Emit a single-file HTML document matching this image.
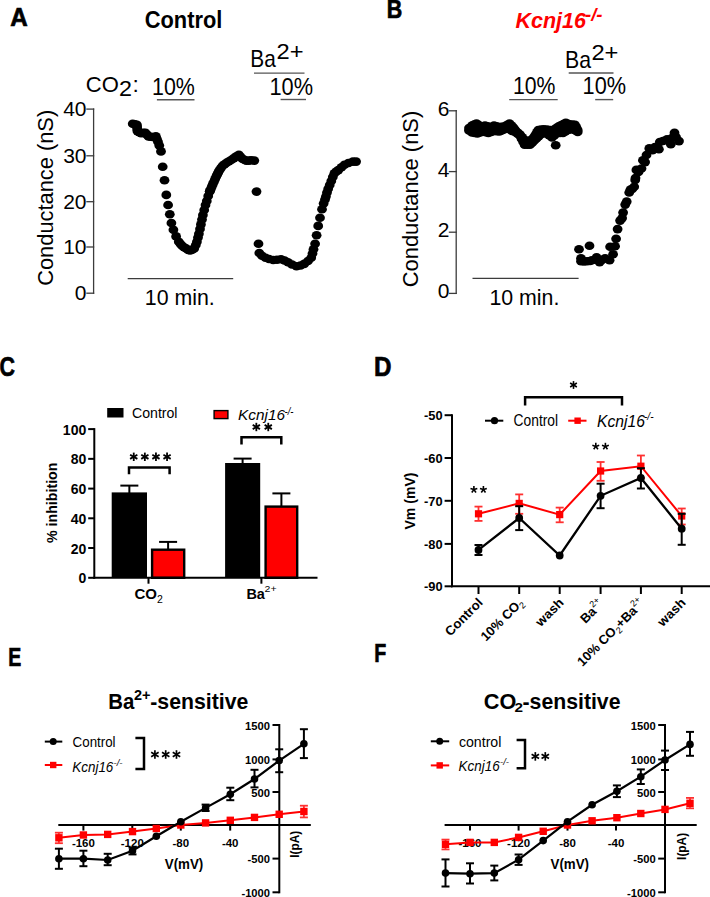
<!DOCTYPE html>
<html><head><meta charset="utf-8"><style>
html,body{margin:0;padding:0;background:#fff;}
svg{display:block;}
</style></head><body>
<svg width="710" height="897" viewBox="0 0 710 897">
<rect x="0" y="0" width="710" height="897" fill="#fff"/>
<text x="10.3" y="25.8" font-family="Liberation Sans" font-size="26.5" font-weight="700" font-style="normal" fill="#000" text-anchor="start" textLength="17.5" lengthAdjust="spacingAndGlyphs" stroke="#000" stroke-width="0.7">A</text>
<text x="144.8" y="28.4" font-family="Liberation Sans" font-size="24.6" font-weight="700" font-style="normal" fill="#000" text-anchor="start" textLength="77.5" lengthAdjust="spacingAndGlyphs" >Control</text>
<text x="85.8" y="91.8" font-family="Liberation Sans" font-size="22.7" font-weight="400" font-style="normal" fill="#000" text-anchor="start" textLength="33" lengthAdjust="spacingAndGlyphs" >CO</text>
<text x="119.0" y="96.3" font-family="Liberation Sans" font-size="21.5" font-weight="400" font-style="normal" fill="#000" text-anchor="start" textLength="13" lengthAdjust="spacingAndGlyphs" >2</text>
<text x="132.5" y="91.8" font-family="Liberation Sans" font-size="22.7" font-weight="400" font-style="normal" fill="#000" text-anchor="start" >:</text>
<text x="152.0" y="94.6" font-family="Liberation Sans" font-size="23" font-weight="400" font-style="normal" fill="#000" text-anchor="start" textLength="42.8" lengthAdjust="spacingAndGlyphs" >10%</text>
<line x1="156.9" y1="99.7" x2="194.5" y2="99.7" stroke="#555" stroke-width="1.4" stroke-linecap="butt"/>
<text x="250.3" y="67.4" font-family="Liberation Sans" font-size="24" font-weight="400" font-style="normal" fill="#000" text-anchor="start" textLength="25.5" lengthAdjust="spacingAndGlyphs" >Ba</text>
<text x="276.6" y="58.6" font-family="Liberation Sans" font-size="22.5" font-weight="400" font-style="normal" fill="#000" text-anchor="start" textLength="27" lengthAdjust="spacingAndGlyphs" >2+</text>
<line x1="254" y1="73.1" x2="304.5" y2="73.1" stroke="#555" stroke-width="1.4" stroke-linecap="butt"/>
<text x="269.5" y="94.6" font-family="Liberation Sans" font-size="23" font-weight="400" font-style="normal" fill="#000" text-anchor="start" textLength="43.5" lengthAdjust="spacingAndGlyphs" >10%</text>
<line x1="280.6" y1="99.5" x2="306" y2="99.5" stroke="#555" stroke-width="1.4" stroke-linecap="butt"/>
<line x1="93.6" y1="108.4" x2="93.6" y2="293.9" stroke="#3c3c3c" stroke-width="1.3" stroke-linecap="butt"/>
<line x1="86.3" y1="109.1" x2="94.2" y2="109.1" stroke="#3c3c3c" stroke-width="1.3" stroke-linecap="butt"/>
<text x="86.5" y="116.3" font-family="Liberation Sans" font-size="21" font-weight="400" font-style="normal" fill="#000" text-anchor="end" >40</text>
<line x1="86.3" y1="155.8" x2="94.2" y2="155.8" stroke="#3c3c3c" stroke-width="1.3" stroke-linecap="butt"/>
<text x="86.5" y="163.0" font-family="Liberation Sans" font-size="21" font-weight="400" font-style="normal" fill="#000" text-anchor="end" >30</text>
<line x1="86.3" y1="201.7" x2="94.2" y2="201.7" stroke="#3c3c3c" stroke-width="1.3" stroke-linecap="butt"/>
<text x="86.5" y="208.89999999999998" font-family="Liberation Sans" font-size="21" font-weight="400" font-style="normal" fill="#000" text-anchor="end" >20</text>
<line x1="86.3" y1="247.0" x2="94.2" y2="247.0" stroke="#3c3c3c" stroke-width="1.3" stroke-linecap="butt"/>
<text x="86.5" y="254.2" font-family="Liberation Sans" font-size="21" font-weight="400" font-style="normal" fill="#000" text-anchor="end" >10</text>
<line x1="86.3" y1="293.2" x2="94.2" y2="293.2" stroke="#3c3c3c" stroke-width="1.3" stroke-linecap="butt"/>
<text x="86.5" y="300.4" font-family="Liberation Sans" font-size="21" font-weight="400" font-style="normal" fill="#000" text-anchor="end" >0</text>
<text x="53.4" y="197.8" font-family="Liberation Sans" font-size="22" font-weight="400" font-style="normal" fill="#000" text-anchor="middle" textLength="176" lengthAdjust="spacingAndGlyphs" transform="rotate(-90 53.4 197.8)">Conductance (nS)</text>
<line x1="127.7" y1="278.7" x2="233.2" y2="278.7" stroke="#3c3c3c" stroke-width="1.3" stroke-linecap="butt"/>
<text x="144.8" y="304.6" font-family="Liberation Sans" font-size="22" font-weight="400" font-style="normal" fill="#000" text-anchor="start" textLength="70" lengthAdjust="spacingAndGlyphs" >10 min.</text>
<ellipse cx="132.7" cy="123.7" rx="4.9" ry="4.3" fill="#000"/>
<ellipse cx="134.8" cy="124.2" rx="4.9" ry="4.3" fill="#000"/>
<ellipse cx="136.9" cy="124.8" rx="4.9" ry="4.3" fill="#000"/>
<ellipse cx="137.1" cy="126.9" rx="4.9" ry="4.3" fill="#000"/>
<ellipse cx="137.2" cy="129.0" rx="4.9" ry="4.3" fill="#000"/>
<ellipse cx="137.4" cy="131.1" rx="4.9" ry="4.3" fill="#000"/>
<ellipse cx="139.2" cy="132.1" rx="4.9" ry="4.3" fill="#000"/>
<ellipse cx="141.1" cy="133.2" rx="4.9" ry="4.3" fill="#000"/>
<ellipse cx="143.2" cy="132.9" rx="4.9" ry="4.3" fill="#000"/>
<ellipse cx="145.4" cy="132.7" rx="4.9" ry="4.3" fill="#000"/>
<ellipse cx="146.9" cy="134.6" rx="4.9" ry="4.3" fill="#000"/>
<ellipse cx="148.5" cy="136.4" rx="4.9" ry="4.3" fill="#000"/>
<ellipse cx="150.6" cy="136.7" rx="4.9" ry="4.3" fill="#000"/>
<ellipse cx="152.7" cy="137.0" rx="4.9" ry="4.3" fill="#000"/>
<ellipse cx="155.9" cy="136.4" rx="4.9" ry="4.3" fill="#000"/>
<ellipse cx="156.9" cy="139.1" rx="4.9" ry="4.3" fill="#000"/>
<ellipse cx="158.0" cy="141.7" rx="4.9" ry="4.3" fill="#000"/>
<ellipse cx="159.3" cy="145.5" rx="4.9" ry="4.3" fill="#000"/>
<ellipse cx="161.0" cy="151.4" rx="4.9" ry="4.3" fill="#000"/>
<ellipse cx="162.7" cy="166.8" rx="4.9" ry="4.3" fill="#000"/>
<ellipse cx="164.5" cy="180.2" rx="4.9" ry="4.3" fill="#000"/>
<ellipse cx="166.3" cy="194.9" rx="4.9" ry="4.3" fill="#000"/>
<ellipse cx="168.1" cy="205.0" rx="4.9" ry="4.3" fill="#000"/>
<ellipse cx="169.8" cy="214.3" rx="4.9" ry="4.3" fill="#000"/>
<ellipse cx="171.4" cy="223.0" rx="4.9" ry="4.3" fill="#000"/>
<ellipse cx="173.4" cy="229.7" rx="4.9" ry="4.3" fill="#000"/>
<ellipse cx="176.1" cy="236.4" rx="4.9" ry="4.3" fill="#000"/>
<ellipse cx="178.8" cy="241.8" rx="4.9" ry="4.3" fill="#000"/>
<ellipse cx="180.5" cy="244.0" rx="4.9" ry="4.3" fill="#000"/>
<ellipse cx="182.1" cy="245.8" rx="4.9" ry="4.3" fill="#000"/>
<ellipse cx="184.0" cy="247.3" rx="4.9" ry="4.3" fill="#000"/>
<ellipse cx="186.2" cy="248.5" rx="4.9" ry="4.3" fill="#000"/>
<ellipse cx="188.2" cy="250.0" rx="4.9" ry="4.3" fill="#000"/>
<ellipse cx="190.2" cy="250.5" rx="4.9" ry="4.3" fill="#000"/>
<ellipse cx="192.2" cy="249.8" rx="4.9" ry="4.3" fill="#000"/>
<ellipse cx="194.2" cy="248.5" rx="4.9" ry="4.3" fill="#000"/>
<ellipse cx="195.8" cy="245.0" rx="4.9" ry="4.3" fill="#000"/>
<ellipse cx="196.9" cy="241.8" rx="4.9" ry="4.3" fill="#000"/>
<ellipse cx="198.0" cy="237.5" rx="4.9" ry="4.3" fill="#000"/>
<ellipse cx="198.9" cy="233.7" rx="4.9" ry="4.3" fill="#000"/>
<ellipse cx="200.0" cy="229.0" rx="4.9" ry="4.3" fill="#000"/>
<ellipse cx="200.9" cy="224.4" rx="4.9" ry="4.3" fill="#000"/>
<ellipse cx="202.0" cy="219.5" rx="4.9" ry="4.3" fill="#000"/>
<ellipse cx="202.9" cy="215.0" rx="4.9" ry="4.3" fill="#000"/>
<ellipse cx="204.2" cy="210.0" rx="4.9" ry="4.3" fill="#000"/>
<ellipse cx="205.5" cy="205.0" rx="4.9" ry="4.3" fill="#000"/>
<ellipse cx="206.8" cy="201.0" rx="4.9" ry="4.3" fill="#000"/>
<ellipse cx="208.2" cy="196.0" rx="4.9" ry="4.3" fill="#000"/>
<ellipse cx="209.8" cy="191.3" rx="4.9" ry="4.3" fill="#000"/>
<ellipse cx="209.8" cy="191.3" rx="4.9" ry="4.3" fill="#000"/>
<ellipse cx="210.8" cy="189.0" rx="4.9" ry="4.3" fill="#000"/>
<ellipse cx="211.7" cy="186.7" rx="4.9" ry="4.3" fill="#000"/>
<ellipse cx="212.7" cy="184.4" rx="4.9" ry="4.3" fill="#000"/>
<ellipse cx="213.9" cy="181.8" rx="4.9" ry="4.3" fill="#000"/>
<ellipse cx="215.0" cy="179.2" rx="4.9" ry="4.3" fill="#000"/>
<ellipse cx="216.2" cy="176.6" rx="4.9" ry="4.3" fill="#000"/>
<ellipse cx="217.2" cy="174.6" rx="4.9" ry="4.3" fill="#000"/>
<ellipse cx="218.2" cy="172.6" rx="4.9" ry="4.3" fill="#000"/>
<ellipse cx="219.2" cy="170.6" rx="4.9" ry="4.3" fill="#000"/>
<ellipse cx="220.9" cy="168.1" rx="4.9" ry="4.3" fill="#000"/>
<ellipse cx="222.6" cy="165.7" rx="4.9" ry="4.3" fill="#000"/>
<ellipse cx="224.6" cy="164.2" rx="4.9" ry="4.3" fill="#000"/>
<ellipse cx="226.6" cy="162.8" rx="4.9" ry="4.3" fill="#000"/>
<ellipse cx="229.1" cy="161.3" rx="4.9" ry="4.3" fill="#000"/>
<ellipse cx="231.5" cy="159.8" rx="4.9" ry="4.3" fill="#000"/>
<ellipse cx="233.9" cy="158.1" rx="4.9" ry="4.3" fill="#000"/>
<ellipse cx="236.4" cy="156.3" rx="4.9" ry="4.3" fill="#000"/>
<ellipse cx="238.9" cy="154.9" rx="4.9" ry="4.3" fill="#000"/>
<ellipse cx="240.6" cy="156.9" rx="4.9" ry="4.3" fill="#000"/>
<ellipse cx="242.3" cy="158.8" rx="4.9" ry="4.3" fill="#000"/>
<ellipse cx="244.3" cy="159.8" rx="4.9" ry="4.3" fill="#000"/>
<ellipse cx="246.3" cy="160.8" rx="4.9" ry="4.3" fill="#000"/>
<ellipse cx="248.8" cy="160.6" rx="4.9" ry="4.3" fill="#000"/>
<ellipse cx="251.2" cy="160.3" rx="4.9" ry="4.3" fill="#000"/>
<ellipse cx="254.3" cy="160.6" rx="4.9" ry="4.3" fill="#000"/>
<ellipse cx="256.5" cy="191.6" rx="4.9" ry="4.3" fill="#000"/>
<ellipse cx="258.5" cy="243.7" rx="4.9" ry="4.3" fill="#000"/>
<ellipse cx="259.3" cy="253.0" rx="4.9" ry="4.3" fill="#000"/>
<ellipse cx="262.0" cy="255.8" rx="4.9" ry="4.3" fill="#000"/>
<ellipse cx="265.5" cy="257.7" rx="4.9" ry="4.3" fill="#000"/>
<ellipse cx="269.0" cy="259.0" rx="4.9" ry="4.3" fill="#000"/>
<ellipse cx="273.2" cy="260.0" rx="4.9" ry="4.3" fill="#000"/>
<ellipse cx="277.0" cy="259.8" rx="4.9" ry="4.3" fill="#000"/>
<ellipse cx="281.0" cy="259.2" rx="4.9" ry="4.3" fill="#000"/>
<ellipse cx="284.5" cy="260.5" rx="4.9" ry="4.3" fill="#000"/>
<ellipse cx="288.0" cy="262.3" rx="4.9" ry="4.3" fill="#000"/>
<ellipse cx="292.0" cy="264.5" rx="4.9" ry="4.3" fill="#000"/>
<ellipse cx="296.5" cy="266.2" rx="4.9" ry="4.3" fill="#000"/>
<ellipse cx="300.5" cy="265.5" rx="4.9" ry="4.3" fill="#000"/>
<ellipse cx="304.2" cy="263.9" rx="4.9" ry="4.3" fill="#000"/>
<ellipse cx="308.0" cy="261.0" rx="4.9" ry="4.3" fill="#000"/>
<ellipse cx="311.2" cy="257.7" rx="4.9" ry="4.3" fill="#000"/>
<ellipse cx="312.5" cy="253.5" rx="4.9" ry="4.3" fill="#000"/>
<ellipse cx="313.5" cy="249.2" rx="4.9" ry="4.3" fill="#000"/>
<ellipse cx="315.1" cy="243.7" rx="4.9" ry="4.3" fill="#000"/>
<ellipse cx="316.6" cy="235.2" rx="4.9" ry="4.3" fill="#000"/>
<ellipse cx="318.2" cy="225.9" rx="4.9" ry="4.3" fill="#000"/>
<ellipse cx="320.0" cy="217.7" rx="4.9" ry="4.3" fill="#000"/>
<ellipse cx="322.0" cy="209.3" rx="4.9" ry="4.3" fill="#000"/>
<ellipse cx="323.6" cy="203.5" rx="4.9" ry="4.3" fill="#000"/>
<ellipse cx="325.0" cy="199.5" rx="4.9" ry="4.3" fill="#000"/>
<ellipse cx="325.9" cy="196.5" rx="4.9" ry="4.3" fill="#000"/>
<ellipse cx="327.0" cy="192.5" rx="4.9" ry="4.3" fill="#000"/>
<ellipse cx="328.2" cy="188.7" rx="4.9" ry="4.3" fill="#000"/>
<ellipse cx="329.7" cy="185.0" rx="4.9" ry="4.3" fill="#000"/>
<ellipse cx="331.3" cy="181.0" rx="4.9" ry="4.3" fill="#000"/>
<ellipse cx="332.8" cy="177.0" rx="4.9" ry="4.3" fill="#000"/>
<ellipse cx="334.4" cy="173.2" rx="4.9" ry="4.3" fill="#000"/>
<ellipse cx="336.3" cy="171.5" rx="4.9" ry="4.3" fill="#000"/>
<ellipse cx="338.3" cy="170.1" rx="4.9" ry="4.3" fill="#000"/>
<ellipse cx="341.5" cy="167.3" rx="4.9" ry="4.3" fill="#000"/>
<ellipse cx="344.5" cy="164.7" rx="4.9" ry="4.3" fill="#000"/>
<ellipse cx="348.5" cy="163.0" rx="4.9" ry="4.3" fill="#000"/>
<ellipse cx="353.0" cy="161.6" rx="4.9" ry="4.3" fill="#000"/>
<ellipse cx="356.1" cy="161.6" rx="4.9" ry="4.3" fill="#000"/>
<text x="386.8" y="18.4" font-family="Liberation Sans" font-size="26.5" font-weight="700" font-style="normal" fill="#000" text-anchor="start" textLength="15.5" lengthAdjust="spacingAndGlyphs" stroke="#000" stroke-width="0.7">B</text>
<text x="515.5" y="27.5" font-family="Liberation Sans" font-size="22.5" font-weight="700" font-style="italic" fill="#ff0000" text-anchor="start" textLength="70.5" lengthAdjust="spacingAndGlyphs" >Kcnj16</text>
<text x="585.0" y="20.5" font-family="Liberation Sans" font-size="17.5" font-weight="700" font-style="italic" fill="#ff0000" text-anchor="start" textLength="17.5" lengthAdjust="spacingAndGlyphs" >-/-</text>
<text x="565.0" y="67.5" font-family="Liberation Sans" font-size="24" font-weight="400" font-style="normal" fill="#000" text-anchor="start" textLength="26" lengthAdjust="spacingAndGlyphs" >Ba</text>
<text x="591.4" y="59.6" font-family="Liberation Sans" font-size="22.5" font-weight="400" font-style="normal" fill="#000" text-anchor="start" textLength="27" lengthAdjust="spacingAndGlyphs" >2+</text>
<line x1="568.7" y1="73.0" x2="613.5" y2="73.0" stroke="#555" stroke-width="1.4" stroke-linecap="butt"/>
<text x="513.0" y="93.7" font-family="Liberation Sans" font-size="23" font-weight="400" font-style="normal" fill="#000" text-anchor="start" textLength="42.5" lengthAdjust="spacingAndGlyphs" >10%</text>
<line x1="509.2" y1="99.6" x2="557.7" y2="99.6" stroke="#555" stroke-width="1.4" stroke-linecap="butt"/>
<text x="582.6" y="93.7" font-family="Liberation Sans" font-size="23" font-weight="400" font-style="normal" fill="#000" text-anchor="start" textLength="43.5" lengthAdjust="spacingAndGlyphs" >10%</text>
<line x1="595.2" y1="99.6" x2="613.2" y2="99.6" stroke="#555" stroke-width="1.4" stroke-linecap="butt"/>
<line x1="456.2" y1="110.1" x2="456.2" y2="294.1" stroke="#3c3c3c" stroke-width="1.3" stroke-linecap="butt"/>
<line x1="448.8" y1="110.8" x2="456.8" y2="110.8" stroke="#3c3c3c" stroke-width="1.3" stroke-linecap="butt"/>
<text x="449.5" y="115.8" font-family="Liberation Sans" font-size="21" font-weight="400" font-style="normal" fill="#000" text-anchor="end" >6</text>
<line x1="448.8" y1="171.6" x2="456.8" y2="171.6" stroke="#3c3c3c" stroke-width="1.3" stroke-linecap="butt"/>
<text x="449.5" y="176.6" font-family="Liberation Sans" font-size="21" font-weight="400" font-style="normal" fill="#000" text-anchor="end" >4</text>
<line x1="448.8" y1="232.2" x2="456.8" y2="232.2" stroke="#3c3c3c" stroke-width="1.3" stroke-linecap="butt"/>
<text x="449.5" y="237.2" font-family="Liberation Sans" font-size="21" font-weight="400" font-style="normal" fill="#000" text-anchor="end" >2</text>
<line x1="448.8" y1="293.4" x2="456.8" y2="293.4" stroke="#3c3c3c" stroke-width="1.3" stroke-linecap="butt"/>
<text x="449.5" y="298.4" font-family="Liberation Sans" font-size="21" font-weight="400" font-style="normal" fill="#000" text-anchor="end" >0</text>
<text x="417.6" y="199.0" font-family="Liberation Sans" font-size="22" font-weight="400" font-style="normal" fill="#000" text-anchor="middle" textLength="176.5" lengthAdjust="spacingAndGlyphs" transform="rotate(-90 417.6 199.0)">Conductance (nS)</text>
<line x1="472.5" y1="278.3" x2="578.6" y2="278.3" stroke="#3c3c3c" stroke-width="1.3" stroke-linecap="butt"/>
<text x="489.4" y="304.9" font-family="Liberation Sans" font-size="22" font-weight="400" font-style="normal" fill="#000" text-anchor="start" textLength="70" lengthAdjust="spacingAndGlyphs" >10 min.</text>
<ellipse cx="469.0" cy="128.0" rx="4.9" ry="4.3" fill="#000"/>
<ellipse cx="472.0" cy="125.5" rx="4.9" ry="4.3" fill="#000"/>
<ellipse cx="474.2" cy="124.5" rx="4.9" ry="4.3" fill="#000"/>
<ellipse cx="476.5" cy="123.5" rx="4.9" ry="4.3" fill="#000"/>
<ellipse cx="478.8" cy="125.0" rx="4.9" ry="4.3" fill="#000"/>
<ellipse cx="481.0" cy="126.5" rx="4.9" ry="4.3" fill="#000"/>
<ellipse cx="485.0" cy="125.5" rx="4.9" ry="4.3" fill="#000"/>
<ellipse cx="487.5" cy="126.2" rx="4.9" ry="4.3" fill="#000"/>
<ellipse cx="490.0" cy="127.0" rx="4.9" ry="4.3" fill="#000"/>
<ellipse cx="494.0" cy="125.5" rx="4.9" ry="4.3" fill="#000"/>
<ellipse cx="496.5" cy="126.2" rx="4.9" ry="4.3" fill="#000"/>
<ellipse cx="499.0" cy="127.0" rx="4.9" ry="4.3" fill="#000"/>
<ellipse cx="501.5" cy="126.8" rx="4.9" ry="4.3" fill="#000"/>
<ellipse cx="504.0" cy="126.5" rx="4.9" ry="4.3" fill="#000"/>
<ellipse cx="506.8" cy="125.0" rx="4.9" ry="4.3" fill="#000"/>
<ellipse cx="509.5" cy="123.5" rx="4.9" ry="4.3" fill="#000"/>
<ellipse cx="511.2" cy="125.2" rx="4.9" ry="4.3" fill="#000"/>
<ellipse cx="513.0" cy="127.0" rx="4.9" ry="4.3" fill="#000"/>
<ellipse cx="514.5" cy="129.0" rx="4.9" ry="4.3" fill="#000"/>
<ellipse cx="516.0" cy="131.0" rx="4.9" ry="4.3" fill="#000"/>
<ellipse cx="518.0" cy="132.8" rx="4.9" ry="4.3" fill="#000"/>
<ellipse cx="520.0" cy="134.5" rx="4.9" ry="4.3" fill="#000"/>
<ellipse cx="522.3" cy="137.2" rx="4.9" ry="4.3" fill="#000"/>
<ellipse cx="524.6" cy="140.0" rx="4.9" ry="4.3" fill="#000"/>
<ellipse cx="527.3" cy="140.8" rx="4.9" ry="4.3" fill="#000"/>
<ellipse cx="530.0" cy="141.5" rx="4.9" ry="4.3" fill="#000"/>
<ellipse cx="532.0" cy="139.2" rx="4.9" ry="4.3" fill="#000"/>
<ellipse cx="534.0" cy="137.0" rx="4.9" ry="4.3" fill="#000"/>
<ellipse cx="535.4" cy="134.7" rx="4.9" ry="4.3" fill="#000"/>
<ellipse cx="536.9" cy="132.4" rx="4.9" ry="4.3" fill="#000"/>
<ellipse cx="538.3" cy="130.1" rx="4.9" ry="4.3" fill="#000"/>
<ellipse cx="541.0" cy="129.6" rx="4.9" ry="4.3" fill="#000"/>
<ellipse cx="543.8" cy="129.2" rx="4.9" ry="4.3" fill="#000"/>
<ellipse cx="547.0" cy="129.6" rx="4.9" ry="4.3" fill="#000"/>
<ellipse cx="550.2" cy="130.1" rx="4.9" ry="4.3" fill="#000"/>
<ellipse cx="554.0" cy="129.5" rx="4.9" ry="4.3" fill="#000"/>
<ellipse cx="556.2" cy="128.0" rx="4.9" ry="4.3" fill="#000"/>
<ellipse cx="558.5" cy="126.5" rx="4.9" ry="4.3" fill="#000"/>
<ellipse cx="560.9" cy="125.3" rx="4.9" ry="4.3" fill="#000"/>
<ellipse cx="563.4" cy="124.0" rx="4.9" ry="4.3" fill="#000"/>
<ellipse cx="565.8" cy="122.8" rx="4.9" ry="4.3" fill="#000"/>
<ellipse cx="567.9" cy="123.7" rx="4.9" ry="4.3" fill="#000"/>
<ellipse cx="570.0" cy="124.5" rx="4.9" ry="4.3" fill="#000"/>
<ellipse cx="572.5" cy="124.6" rx="4.9" ry="4.3" fill="#000"/>
<ellipse cx="575.0" cy="124.7" rx="4.9" ry="4.3" fill="#000"/>
<ellipse cx="576.4" cy="127.3" rx="4.9" ry="4.3" fill="#000"/>
<ellipse cx="577.7" cy="130.0" rx="4.9" ry="4.3" fill="#000"/>
<ellipse cx="469.0" cy="130.5" rx="4.9" ry="4.3" fill="#000"/>
<ellipse cx="472.0" cy="132.5" rx="4.9" ry="4.3" fill="#000"/>
<ellipse cx="474.7" cy="133.0" rx="4.9" ry="4.3" fill="#000"/>
<ellipse cx="477.4" cy="133.5" rx="4.9" ry="4.3" fill="#000"/>
<ellipse cx="480.2" cy="132.5" rx="4.9" ry="4.3" fill="#000"/>
<ellipse cx="483.0" cy="131.5" rx="4.9" ry="4.3" fill="#000"/>
<ellipse cx="485.7" cy="132.2" rx="4.9" ry="4.3" fill="#000"/>
<ellipse cx="488.4" cy="133.0" rx="4.9" ry="4.3" fill="#000"/>
<ellipse cx="491.2" cy="132.0" rx="4.9" ry="4.3" fill="#000"/>
<ellipse cx="494.0" cy="131.0" rx="4.9" ry="4.3" fill="#000"/>
<ellipse cx="496.7" cy="131.2" rx="4.9" ry="4.3" fill="#000"/>
<ellipse cx="499.4" cy="131.5" rx="4.9" ry="4.3" fill="#000"/>
<ellipse cx="501.7" cy="130.5" rx="4.9" ry="4.3" fill="#000"/>
<ellipse cx="504.0" cy="129.5" rx="4.9" ry="4.3" fill="#000"/>
<ellipse cx="508.0" cy="128.0" rx="4.9" ry="4.3" fill="#000"/>
<ellipse cx="510.0" cy="129.5" rx="4.9" ry="4.3" fill="#000"/>
<ellipse cx="512.0" cy="131.0" rx="4.9" ry="4.3" fill="#000"/>
<ellipse cx="515.0" cy="132.0" rx="4.9" ry="4.3" fill="#000"/>
<ellipse cx="517.5" cy="133.8" rx="4.9" ry="4.3" fill="#000"/>
<ellipse cx="520.0" cy="135.6" rx="4.9" ry="4.3" fill="#000"/>
<ellipse cx="521.5" cy="138.7" rx="4.9" ry="4.3" fill="#000"/>
<ellipse cx="523.1" cy="141.7" rx="4.9" ry="4.3" fill="#000"/>
<ellipse cx="524.6" cy="144.8" rx="4.9" ry="4.3" fill="#000"/>
<ellipse cx="527.3" cy="144.8" rx="4.9" ry="4.3" fill="#000"/>
<ellipse cx="530.0" cy="144.8" rx="4.9" ry="4.3" fill="#000"/>
<ellipse cx="532.2" cy="142.7" rx="4.9" ry="4.3" fill="#000"/>
<ellipse cx="534.3" cy="140.5" rx="4.9" ry="4.3" fill="#000"/>
<ellipse cx="536.5" cy="138.4" rx="4.9" ry="4.3" fill="#000"/>
<ellipse cx="538.8" cy="136.2" rx="4.9" ry="4.3" fill="#000"/>
<ellipse cx="541.0" cy="134.0" rx="4.9" ry="4.3" fill="#000"/>
<ellipse cx="543.5" cy="133.5" rx="4.9" ry="4.3" fill="#000"/>
<ellipse cx="546.0" cy="133.0" rx="4.9" ry="4.3" fill="#000"/>
<ellipse cx="549.0" cy="135.2" rx="4.9" ry="4.3" fill="#000"/>
<ellipse cx="552.0" cy="137.5" rx="4.9" ry="4.3" fill="#000"/>
<ellipse cx="554.5" cy="135.2" rx="4.9" ry="4.3" fill="#000"/>
<ellipse cx="557.0" cy="133.0" rx="4.9" ry="4.3" fill="#000"/>
<ellipse cx="560.0" cy="133.0" rx="4.9" ry="4.3" fill="#000"/>
<ellipse cx="563.0" cy="133.0" rx="4.9" ry="4.3" fill="#000"/>
<ellipse cx="565.5" cy="131.5" rx="4.9" ry="4.3" fill="#000"/>
<ellipse cx="568.0" cy="130.0" rx="4.9" ry="4.3" fill="#000"/>
<ellipse cx="570.5" cy="129.5" rx="4.9" ry="4.3" fill="#000"/>
<ellipse cx="573.0" cy="129.0" rx="4.9" ry="4.3" fill="#000"/>
<ellipse cx="575.4" cy="130.5" rx="4.9" ry="4.3" fill="#000"/>
<ellipse cx="577.7" cy="132.0" rx="4.9" ry="4.3" fill="#000"/>
<ellipse cx="555.7" cy="145.3" rx="4.9" ry="4.3" fill="#000"/>
<ellipse cx="472.0" cy="129.0" rx="4.9" ry="4.3" fill="#000"/>
<ellipse cx="476.0" cy="128.5" rx="4.9" ry="4.3" fill="#000"/>
<ellipse cx="480.0" cy="128.5" rx="4.9" ry="4.3" fill="#000"/>
<ellipse cx="579.0" cy="249.2" rx="4.9" ry="4.3" fill="#000"/>
<ellipse cx="589.5" cy="245.7" rx="4.9" ry="4.3" fill="#000"/>
<ellipse cx="581.0" cy="261.2" rx="4.9" ry="4.3" fill="#000"/>
<ellipse cx="581.0" cy="258.2" rx="4.9" ry="4.3" fill="#000"/>
<ellipse cx="584.0" cy="261.5" rx="4.9" ry="4.3" fill="#000"/>
<ellipse cx="587.0" cy="261.2" rx="4.9" ry="4.3" fill="#000"/>
<ellipse cx="590.0" cy="261.0" rx="4.9" ry="4.3" fill="#000"/>
<ellipse cx="592.0" cy="260.2" rx="4.9" ry="4.3" fill="#000"/>
<ellipse cx="596.6" cy="257.2" rx="4.9" ry="4.3" fill="#000"/>
<ellipse cx="599.6" cy="262.2" rx="4.9" ry="4.3" fill="#000"/>
<ellipse cx="602.0" cy="260.0" rx="4.9" ry="4.3" fill="#000"/>
<ellipse cx="605.1" cy="258.2" rx="4.9" ry="4.3" fill="#000"/>
<ellipse cx="609.6" cy="260.2" rx="4.9" ry="4.3" fill="#000"/>
<ellipse cx="613.1" cy="254.2" rx="4.9" ry="4.3" fill="#000"/>
<ellipse cx="610.1" cy="246.7" rx="4.9" ry="4.3" fill="#000"/>
<ellipse cx="615.1" cy="246.2" rx="4.9" ry="4.3" fill="#000"/>
<ellipse cx="616.1" cy="238.7" rx="4.9" ry="4.3" fill="#000"/>
<ellipse cx="617.6" cy="229.1" rx="4.9" ry="4.3" fill="#000"/>
<ellipse cx="620.1" cy="220.6" rx="4.9" ry="4.3" fill="#000"/>
<ellipse cx="622.1" cy="218.1" rx="4.9" ry="4.3" fill="#000"/>
<ellipse cx="623.1" cy="212.6" rx="4.9" ry="4.3" fill="#000"/>
<ellipse cx="625.2" cy="204.6" rx="4.9" ry="4.3" fill="#000"/>
<ellipse cx="626.7" cy="201.6" rx="4.9" ry="4.3" fill="#000"/>
<ellipse cx="629.2" cy="192.5" rx="4.9" ry="4.3" fill="#000"/>
<ellipse cx="630.5" cy="189.6" rx="4.9" ry="4.3" fill="#000"/>
<ellipse cx="632.2" cy="189.0" rx="4.9" ry="4.3" fill="#000"/>
<ellipse cx="634.2" cy="186.8" rx="4.9" ry="4.3" fill="#000"/>
<ellipse cx="635.2" cy="180.0" rx="4.9" ry="4.3" fill="#000"/>
<ellipse cx="635.5" cy="178.1" rx="4.9" ry="4.3" fill="#000"/>
<ellipse cx="636.4" cy="169.9" rx="4.9" ry="4.3" fill="#000"/>
<ellipse cx="638.5" cy="172.0" rx="4.9" ry="4.3" fill="#000"/>
<ellipse cx="641.5" cy="168.5" rx="4.9" ry="4.3" fill="#000"/>
<ellipse cx="642.9" cy="160.3" rx="4.9" ry="4.3" fill="#000"/>
<ellipse cx="645.1" cy="162.1" rx="4.9" ry="4.3" fill="#000"/>
<ellipse cx="646.5" cy="155.0" rx="4.9" ry="4.3" fill="#000"/>
<ellipse cx="649.3" cy="148.4" rx="4.9" ry="4.3" fill="#000"/>
<ellipse cx="652.5" cy="150.2" rx="4.9" ry="4.3" fill="#000"/>
<ellipse cx="655.0" cy="147.0" rx="4.9" ry="4.3" fill="#000"/>
<ellipse cx="658.9" cy="149.3" rx="4.9" ry="4.3" fill="#000"/>
<ellipse cx="659.8" cy="142.0" rx="4.9" ry="4.3" fill="#000"/>
<ellipse cx="663.0" cy="141.0" rx="4.9" ry="4.3" fill="#000"/>
<ellipse cx="667.1" cy="139.2" rx="4.9" ry="4.3" fill="#000"/>
<ellipse cx="670.8" cy="144.3" rx="4.9" ry="4.3" fill="#000"/>
<ellipse cx="672.0" cy="138.0" rx="4.9" ry="4.3" fill="#000"/>
<ellipse cx="674.5" cy="132.8" rx="4.9" ry="4.3" fill="#000"/>
<ellipse cx="676.0" cy="137.0" rx="4.9" ry="4.3" fill="#000"/>
<ellipse cx="679.0" cy="141.1" rx="4.9" ry="4.3" fill="#000"/>
<text x="-0.5" y="375.5" font-family="Liberation Sans" font-size="28" font-weight="700" font-style="normal" fill="#000" text-anchor="start" textLength="15.5" lengthAdjust="spacingAndGlyphs" stroke="#000" stroke-width="0.7">C</text>
<rect x="107.2" y="408" width="16.3" height="9.5" fill="#000"/>
<text x="132.0" y="417.9" font-family="Liberation Sans" font-size="14.5" font-weight="400" font-style="normal" fill="#000" text-anchor="start" textLength="45.5" lengthAdjust="spacingAndGlyphs" >Control</text>
<rect x="214.1" y="410.6" width="13.8" height="8.0" fill="#ff0000" stroke="#000" stroke-width="1.4"/>
<text x="238.0" y="420.4" font-family="Liberation Sans" font-size="14.5" font-weight="400" font-style="italic" fill="#000" text-anchor="start" textLength="47" lengthAdjust="spacingAndGlyphs" >Kcnj16</text>
<text x="284.5" y="414.5" font-family="Liberation Sans" font-size="10" font-weight="400" font-style="italic" fill="#000" text-anchor="start" textLength="9" lengthAdjust="spacingAndGlyphs" >-/-</text>
<rect x="111.7" y="492.4" width="35.3" height="85.4" fill="#000"/>
<rect x="152.1" y="549.7" width="32.1" height="28.1" fill="#ff0000" stroke="#000" stroke-width="2.4"/>
<rect x="225.1" y="463.0" width="35.1" height="114.8" fill="#000"/>
<rect x="265.6" y="506.6" width="31.6" height="71.2" fill="#ff0000" stroke="#000" stroke-width="2.4"/>
<line x1="129.35" y1="485.6" x2="129.35" y2="493.4" stroke="#000" stroke-width="2" stroke-linecap="butt"/>
<line x1="120.35" y1="485.6" x2="138.35" y2="485.6" stroke="#000" stroke-width="2" stroke-linecap="butt"/>
<line x1="168.1" y1="541.9" x2="168.1" y2="549.5" stroke="#000" stroke-width="2" stroke-linecap="butt"/>
<line x1="159.1" y1="541.9" x2="177.1" y2="541.9" stroke="#000" stroke-width="2" stroke-linecap="butt"/>
<line x1="242.6" y1="458.6" x2="242.6" y2="464" stroke="#000" stroke-width="2" stroke-linecap="butt"/>
<line x1="233.6" y1="458.6" x2="251.6" y2="458.6" stroke="#000" stroke-width="2" stroke-linecap="butt"/>
<line x1="281.4" y1="493.4" x2="281.4" y2="506.4" stroke="#000" stroke-width="2" stroke-linecap="butt"/>
<line x1="272.4" y1="493.4" x2="290.4" y2="493.4" stroke="#000" stroke-width="2" stroke-linecap="butt"/>
<line x1="94.3" y1="428.1" x2="94.3" y2="578.8" stroke="#000" stroke-width="2" stroke-linecap="butt"/>
<line x1="88.2" y1="429.1" x2="94.3" y2="429.1" stroke="#000" stroke-width="2" stroke-linecap="butt"/>
<text x="86.3" y="434.6" font-family="Liberation Sans" font-size="14.8" font-weight="700" font-style="normal" fill="#000" text-anchor="end" textLength="23.5" lengthAdjust="spacingAndGlyphs" >100</text>
<line x1="88.2" y1="458.85" x2="94.3" y2="458.85" stroke="#000" stroke-width="2" stroke-linecap="butt"/>
<text x="86.3" y="464.35" font-family="Liberation Sans" font-size="14.8" font-weight="700" font-style="normal" fill="#000" text-anchor="end" textLength="15.6" lengthAdjust="spacingAndGlyphs" >80</text>
<line x1="88.2" y1="488.6" x2="94.3" y2="488.6" stroke="#000" stroke-width="2" stroke-linecap="butt"/>
<text x="86.3" y="494.1" font-family="Liberation Sans" font-size="14.8" font-weight="700" font-style="normal" fill="#000" text-anchor="end" textLength="15.6" lengthAdjust="spacingAndGlyphs" >60</text>
<line x1="88.2" y1="518.3" x2="94.3" y2="518.3" stroke="#000" stroke-width="2" stroke-linecap="butt"/>
<text x="86.3" y="523.8" font-family="Liberation Sans" font-size="14.8" font-weight="700" font-style="normal" fill="#000" text-anchor="end" textLength="15.6" lengthAdjust="spacingAndGlyphs" >40</text>
<line x1="88.2" y1="548.0" x2="94.3" y2="548.0" stroke="#000" stroke-width="2" stroke-linecap="butt"/>
<text x="86.3" y="553.5" font-family="Liberation Sans" font-size="14.8" font-weight="700" font-style="normal" fill="#000" text-anchor="end" textLength="15.6" lengthAdjust="spacingAndGlyphs" >20</text>
<line x1="88.2" y1="577.8" x2="94.3" y2="577.8" stroke="#000" stroke-width="2" stroke-linecap="butt"/>
<text x="86.3" y="583.3" font-family="Liberation Sans" font-size="14.8" font-weight="700" font-style="normal" fill="#000" text-anchor="end" textLength="7.8" lengthAdjust="spacingAndGlyphs" >0</text>
<line x1="93.3" y1="577.8" x2="317.5" y2="577.8" stroke="#000" stroke-width="2" stroke-linecap="butt"/>
<line x1="148.5" y1="577.8" x2="148.5" y2="583.7" stroke="#000" stroke-width="2" stroke-linecap="butt"/>
<line x1="261.4" y1="577.8" x2="261.4" y2="583.7" stroke="#000" stroke-width="2" stroke-linecap="butt"/>
<polyline points="129,474.2 129,467.5 169.6,467.5 169.6,474.2" fill="none" stroke="#000" stroke-width="2.5" stroke-linejoin="miter"/>
<polyline points="241.5,444.4 241.5,437.3 281.3,437.3 281.3,444.4" fill="none" stroke="#000" stroke-width="2.5" stroke-linejoin="miter"/>
<line x1="133.74" y1="452.6" x2="133.74" y2="461.0" stroke="#000" stroke-width="1.8" stroke-linecap="butt"/>
<line x1="130.1" y1="454.7" x2="137.37" y2="458.9" stroke="#000" stroke-width="1.8" stroke-linecap="butt"/>
<line x1="130.1" y1="458.9" x2="137.37" y2="454.7" stroke="#000" stroke-width="1.8" stroke-linecap="butt"/>
<line x1="144.85" y1="452.6" x2="144.85" y2="461.0" stroke="#000" stroke-width="1.8" stroke-linecap="butt"/>
<line x1="141.21" y1="454.7" x2="148.48" y2="458.9" stroke="#000" stroke-width="1.8" stroke-linecap="butt"/>
<line x1="141.21" y1="458.9" x2="148.48" y2="454.7" stroke="#000" stroke-width="1.8" stroke-linecap="butt"/>
<line x1="155.95" y1="452.6" x2="155.95" y2="461.0" stroke="#000" stroke-width="1.8" stroke-linecap="butt"/>
<line x1="152.32" y1="454.7" x2="159.59" y2="458.9" stroke="#000" stroke-width="1.8" stroke-linecap="butt"/>
<line x1="152.32" y1="458.9" x2="159.59" y2="454.7" stroke="#000" stroke-width="1.8" stroke-linecap="butt"/>
<line x1="167.06" y1="452.6" x2="167.06" y2="461.0" stroke="#000" stroke-width="1.8" stroke-linecap="butt"/>
<line x1="163.43" y1="454.7" x2="170.7" y2="458.9" stroke="#000" stroke-width="1.8" stroke-linecap="butt"/>
<line x1="163.43" y1="458.9" x2="170.7" y2="454.7" stroke="#000" stroke-width="1.8" stroke-linecap="butt"/>
<line x1="256.34" y1="422.8" x2="256.34" y2="431.2" stroke="#000" stroke-width="1.8" stroke-linecap="butt"/>
<line x1="252.7" y1="424.9" x2="259.97" y2="429.1" stroke="#000" stroke-width="1.8" stroke-linecap="butt"/>
<line x1="252.7" y1="429.1" x2="259.97" y2="424.9" stroke="#000" stroke-width="1.8" stroke-linecap="butt"/>
<line x1="268.26" y1="422.8" x2="268.26" y2="431.2" stroke="#000" stroke-width="1.8" stroke-linecap="butt"/>
<line x1="264.63" y1="424.9" x2="271.9" y2="429.1" stroke="#000" stroke-width="1.8" stroke-linecap="butt"/>
<line x1="264.63" y1="429.1" x2="271.9" y2="424.9" stroke="#000" stroke-width="1.8" stroke-linecap="butt"/>
<text x="56.8" y="502.8" font-family="Liberation Sans" font-size="15" font-weight="700" font-style="normal" fill="#000" text-anchor="middle" textLength="80.5" lengthAdjust="spacingAndGlyphs" transform="rotate(-90 56.8 502.8)">% inhibition</text>
<text x="134.5" y="599.0" font-family="Liberation Sans" font-size="14" font-weight="700" font-style="normal" fill="#000" text-anchor="start" textLength="22.5" lengthAdjust="spacingAndGlyphs" >CO</text>
<text x="157.0" y="603.0" font-family="Liberation Sans" font-size="10.5" font-weight="400" font-style="normal" fill="#000" text-anchor="start" >2</text>
<text x="246.4" y="598.6" font-family="Liberation Sans" font-size="14" font-weight="700" font-style="normal" fill="#000" text-anchor="start" textLength="18.5" lengthAdjust="spacingAndGlyphs" >Ba</text>
<text x="264.6" y="591.7" font-family="Liberation Sans" font-size="9" font-weight="400" font-style="normal" fill="#000" text-anchor="start" textLength="12" lengthAdjust="spacingAndGlyphs" >2+</text>
<text x="374.0" y="375.9" font-family="Liberation Sans" font-size="27" font-weight="700" font-style="normal" fill="#000" text-anchor="start" textLength="17.5" lengthAdjust="spacingAndGlyphs" stroke="#000" stroke-width="0.7">D</text>
<polyline points="525.1,405.5 525.1,397.3 622,397.3 622,405.5" fill="none" stroke="#000" stroke-width="2.5" stroke-linejoin="miter"/>
<line x1="573.5" y1="381.1" x2="573.5" y2="388.9" stroke="#000" stroke-width="1.6" stroke-linecap="butt"/>
<line x1="570.12" y1="383.05" x2="576.88" y2="386.95" stroke="#000" stroke-width="1.6" stroke-linecap="butt"/>
<line x1="570.12" y1="386.95" x2="576.88" y2="383.05" stroke="#000" stroke-width="1.6" stroke-linecap="butt"/>
<line x1="485" y1="420.7" x2="503.3" y2="420.7" stroke="#000" stroke-width="2" stroke-linecap="butt"/>
<ellipse cx="494.5" cy="420.7" rx="3.6" ry="3.6" fill="#000"/>
<text x="513.6" y="425.8" font-family="Liberation Sans" font-size="16.5" font-weight="400" font-style="normal" fill="#000" text-anchor="start" textLength="44.5" lengthAdjust="spacingAndGlyphs" >Control</text>
<line x1="568.2" y1="420.7" x2="586.5" y2="420.7" stroke="#ff0000" stroke-width="2" stroke-linecap="butt"/>
<rect x="574.4" y="417.5" width="6.4" height="6.4" fill="#ff0000"/>
<text x="597.0" y="427.0" font-family="Liberation Sans" font-size="16.5" font-weight="400" font-style="italic" fill="#000" text-anchor="start" textLength="48" lengthAdjust="spacingAndGlyphs" >Kcnj16</text>
<text x="644.0" y="419.8" font-family="Liberation Sans" font-size="11" font-weight="400" font-style="italic" fill="#000" text-anchor="start" textLength="9.5" lengthAdjust="spacingAndGlyphs" >-/-</text>
<line x1="452" y1="414.2" x2="452" y2="587.3" stroke="#000" stroke-width="2" stroke-linecap="butt"/>
<line x1="444.6" y1="415.2" x2="452" y2="415.2" stroke="#000" stroke-width="2" stroke-linecap="butt"/>
<text x="442.6" y="420.2" font-family="Liberation Sans" font-size="13" font-weight="700" font-style="normal" fill="#000" text-anchor="end" textLength="18.6" lengthAdjust="spacingAndGlyphs" >-50</text>
<line x1="444.6" y1="458.0" x2="452" y2="458.0" stroke="#000" stroke-width="2" stroke-linecap="butt"/>
<text x="442.6" y="463.0" font-family="Liberation Sans" font-size="13" font-weight="700" font-style="normal" fill="#000" text-anchor="end" textLength="18.6" lengthAdjust="spacingAndGlyphs" >-60</text>
<line x1="444.6" y1="500.8" x2="452" y2="500.8" stroke="#000" stroke-width="2" stroke-linecap="butt"/>
<text x="442.6" y="505.8" font-family="Liberation Sans" font-size="13" font-weight="700" font-style="normal" fill="#000" text-anchor="end" textLength="18.6" lengthAdjust="spacingAndGlyphs" >-70</text>
<line x1="444.6" y1="543.9" x2="452" y2="543.9" stroke="#000" stroke-width="2" stroke-linecap="butt"/>
<text x="442.6" y="548.9" font-family="Liberation Sans" font-size="13" font-weight="700" font-style="normal" fill="#000" text-anchor="end" textLength="18.6" lengthAdjust="spacingAndGlyphs" >-80</text>
<line x1="444.6" y1="586.3" x2="452" y2="586.3" stroke="#000" stroke-width="2" stroke-linecap="butt"/>
<text x="442.6" y="591.3" font-family="Liberation Sans" font-size="13" font-weight="700" font-style="normal" fill="#000" text-anchor="end" textLength="18.6" lengthAdjust="spacingAndGlyphs" >-90</text>
<line x1="451" y1="586.3" x2="710" y2="586.3" stroke="#000" stroke-width="2" stroke-linecap="butt"/>
<line x1="478.5" y1="586.3" x2="478.5" y2="594" stroke="#000" stroke-width="2" stroke-linecap="butt"/>
<line x1="519.2" y1="586.3" x2="519.2" y2="594" stroke="#000" stroke-width="2" stroke-linecap="butt"/>
<line x1="559.7" y1="586.3" x2="559.7" y2="594" stroke="#000" stroke-width="2" stroke-linecap="butt"/>
<line x1="600.6" y1="586.3" x2="600.6" y2="594" stroke="#000" stroke-width="2" stroke-linecap="butt"/>
<line x1="640.9" y1="586.3" x2="640.9" y2="594" stroke="#000" stroke-width="2" stroke-linecap="butt"/>
<line x1="681.7" y1="586.3" x2="681.7" y2="594" stroke="#000" stroke-width="2" stroke-linecap="butt"/>
<text x="414.6" y="501.0" font-family="Liberation Sans" font-size="15" font-weight="700" font-style="normal" fill="#000" text-anchor="middle" textLength="57" lengthAdjust="spacingAndGlyphs" transform="rotate(-90 414.6 501.0)">Vm (mV)</text>
<polyline points="478.5,513.8 519.2,503.4 559.7,514.6 600.6,471.0 640.9,466.2 681.7,516.0" fill="none" stroke="#ff0000" stroke-width="2" stroke-linejoin="miter"/>
<line x1="478.5" y1="506.6" x2="478.5" y2="520.9" stroke="#ff3030" stroke-width="1.8" stroke-linecap="butt"/>
<line x1="474.5" y1="506.6" x2="482.5" y2="506.6" stroke="#ff3030" stroke-width="1.8" stroke-linecap="butt"/>
<line x1="474.5" y1="520.9" x2="482.5" y2="520.9" stroke="#ff3030" stroke-width="1.8" stroke-linecap="butt"/>
<line x1="519.2" y1="494.4" x2="519.2" y2="513.8" stroke="#ff3030" stroke-width="1.8" stroke-linecap="butt"/>
<line x1="515.2" y1="494.4" x2="523.2" y2="494.4" stroke="#ff3030" stroke-width="1.8" stroke-linecap="butt"/>
<line x1="515.2" y1="513.8" x2="523.2" y2="513.8" stroke="#ff3030" stroke-width="1.8" stroke-linecap="butt"/>
<line x1="559.7" y1="507.6" x2="559.7" y2="522.3" stroke="#ff3030" stroke-width="1.8" stroke-linecap="butt"/>
<line x1="555.7" y1="507.6" x2="563.7" y2="507.6" stroke="#ff3030" stroke-width="1.8" stroke-linecap="butt"/>
<line x1="555.7" y1="522.3" x2="563.7" y2="522.3" stroke="#ff3030" stroke-width="1.8" stroke-linecap="butt"/>
<line x1="600.6" y1="462" x2="600.6" y2="480.8" stroke="#ff3030" stroke-width="1.8" stroke-linecap="butt"/>
<line x1="596.6" y1="462" x2="604.6" y2="462" stroke="#ff3030" stroke-width="1.8" stroke-linecap="butt"/>
<line x1="596.6" y1="480.8" x2="604.6" y2="480.8" stroke="#ff3030" stroke-width="1.8" stroke-linecap="butt"/>
<line x1="640.9" y1="455.5" x2="640.9" y2="478" stroke="#ff3030" stroke-width="1.8" stroke-linecap="butt"/>
<line x1="636.9" y1="455.5" x2="644.9" y2="455.5" stroke="#ff3030" stroke-width="1.8" stroke-linecap="butt"/>
<line x1="636.9" y1="478" x2="644.9" y2="478" stroke="#ff3030" stroke-width="1.8" stroke-linecap="butt"/>
<line x1="681.7" y1="508.5" x2="681.7" y2="524.5" stroke="#ff3030" stroke-width="1.8" stroke-linecap="butt"/>
<line x1="677.7" y1="508.5" x2="685.7" y2="508.5" stroke="#ff3030" stroke-width="1.8" stroke-linecap="butt"/>
<line x1="677.7" y1="524.5" x2="685.7" y2="524.5" stroke="#ff3030" stroke-width="1.8" stroke-linecap="butt"/>
<rect x="474.9" y="510.19999999999993" width="7.2" height="7.2" fill="#ff0000"/>
<rect x="515.6" y="499.79999999999995" width="7.2" height="7.2" fill="#ff0000"/>
<rect x="556.1" y="511.0" width="7.2" height="7.2" fill="#ff0000"/>
<rect x="597.0" y="467.4" width="7.2" height="7.2" fill="#ff0000"/>
<rect x="637.3" y="462.59999999999997" width="7.2" height="7.2" fill="#ff0000"/>
<rect x="678.1" y="512.4" width="7.2" height="7.2" fill="#ff0000"/>
<polyline points="478.5,549.9 519.2,518.0 559.7,555.5 600.6,495.8 640.9,478.0 681.7,528.7" fill="none" stroke="#000" stroke-width="2.3" stroke-linejoin="miter"/>
<line x1="478.5" y1="545" x2="478.5" y2="555" stroke="#000" stroke-width="2" stroke-linecap="butt"/>
<line x1="474.5" y1="545" x2="482.5" y2="545" stroke="#000" stroke-width="2" stroke-linecap="butt"/>
<line x1="474.5" y1="555" x2="482.5" y2="555" stroke="#000" stroke-width="2" stroke-linecap="butt"/>
<line x1="519.2" y1="506.2" x2="519.2" y2="530.1" stroke="#000" stroke-width="2" stroke-linecap="butt"/>
<line x1="515.2" y1="506.2" x2="523.2" y2="506.2" stroke="#000" stroke-width="2" stroke-linecap="butt"/>
<line x1="515.2" y1="530.1" x2="523.2" y2="530.1" stroke="#000" stroke-width="2" stroke-linecap="butt"/>
<line x1="600.6" y1="483.7" x2="600.6" y2="508.2" stroke="#000" stroke-width="2" stroke-linecap="butt"/>
<line x1="596.6" y1="483.7" x2="604.6" y2="483.7" stroke="#000" stroke-width="2" stroke-linecap="butt"/>
<line x1="596.6" y1="508.2" x2="604.6" y2="508.2" stroke="#000" stroke-width="2" stroke-linecap="butt"/>
<line x1="640.9" y1="468.2" x2="640.9" y2="488.5" stroke="#000" stroke-width="2" stroke-linecap="butt"/>
<line x1="636.9" y1="468.2" x2="644.9" y2="468.2" stroke="#000" stroke-width="2" stroke-linecap="butt"/>
<line x1="636.9" y1="488.5" x2="644.9" y2="488.5" stroke="#000" stroke-width="2" stroke-linecap="butt"/>
<line x1="681.7" y1="513.8" x2="681.7" y2="544.8" stroke="#000" stroke-width="2" stroke-linecap="butt"/>
<line x1="677.7" y1="513.8" x2="685.7" y2="513.8" stroke="#000" stroke-width="2" stroke-linecap="butt"/>
<line x1="677.7" y1="544.8" x2="685.7" y2="544.8" stroke="#000" stroke-width="2" stroke-linecap="butt"/>
<ellipse cx="478.5" cy="549.9" rx="3.9" ry="3.9" fill="#000"/>
<ellipse cx="519.2" cy="518.0" rx="3.9" ry="3.9" fill="#000"/>
<ellipse cx="559.7" cy="555.5" rx="3.9" ry="3.9" fill="#000"/>
<ellipse cx="600.6" cy="495.8" rx="3.9" ry="3.9" fill="#000"/>
<ellipse cx="640.9" cy="478.0" rx="3.9" ry="3.9" fill="#000"/>
<ellipse cx="681.7" cy="528.7" rx="3.9" ry="3.9" fill="#000"/>
<line x1="473.9" y1="489.6" x2="473.9" y2="486.0" stroke="#000" stroke-width="1.6" stroke-linecap="butt"/>
<line x1="473.9" y1="489.6" x2="477.32" y2="488.49" stroke="#000" stroke-width="1.6" stroke-linecap="butt"/>
<line x1="473.9" y1="489.6" x2="476.02" y2="492.51" stroke="#000" stroke-width="1.6" stroke-linecap="butt"/>
<line x1="473.9" y1="489.6" x2="471.78" y2="492.51" stroke="#000" stroke-width="1.6" stroke-linecap="butt"/>
<line x1="473.9" y1="489.6" x2="470.48" y2="488.49" stroke="#000" stroke-width="1.6" stroke-linecap="butt"/>
<line x1="483.4" y1="489.6" x2="483.4" y2="486.0" stroke="#000" stroke-width="1.6" stroke-linecap="butt"/>
<line x1="483.4" y1="489.6" x2="486.82" y2="488.49" stroke="#000" stroke-width="1.6" stroke-linecap="butt"/>
<line x1="483.4" y1="489.6" x2="485.52" y2="492.51" stroke="#000" stroke-width="1.6" stroke-linecap="butt"/>
<line x1="483.4" y1="489.6" x2="481.28" y2="492.51" stroke="#000" stroke-width="1.6" stroke-linecap="butt"/>
<line x1="483.4" y1="489.6" x2="479.98" y2="488.49" stroke="#000" stroke-width="1.6" stroke-linecap="butt"/>
<line x1="595.8" y1="446.4" x2="595.8" y2="442.8" stroke="#000" stroke-width="1.6" stroke-linecap="butt"/>
<line x1="595.8" y1="446.4" x2="599.22" y2="445.29" stroke="#000" stroke-width="1.6" stroke-linecap="butt"/>
<line x1="595.8" y1="446.4" x2="597.92" y2="449.31" stroke="#000" stroke-width="1.6" stroke-linecap="butt"/>
<line x1="595.8" y1="446.4" x2="593.68" y2="449.31" stroke="#000" stroke-width="1.6" stroke-linecap="butt"/>
<line x1="595.8" y1="446.4" x2="592.38" y2="445.29" stroke="#000" stroke-width="1.6" stroke-linecap="butt"/>
<line x1="605.4" y1="446.4" x2="605.4" y2="442.8" stroke="#000" stroke-width="1.6" stroke-linecap="butt"/>
<line x1="605.4" y1="446.4" x2="608.82" y2="445.29" stroke="#000" stroke-width="1.6" stroke-linecap="butt"/>
<line x1="605.4" y1="446.4" x2="607.52" y2="449.31" stroke="#000" stroke-width="1.6" stroke-linecap="butt"/>
<line x1="605.4" y1="446.4" x2="603.28" y2="449.31" stroke="#000" stroke-width="1.6" stroke-linecap="butt"/>
<line x1="605.4" y1="446.4" x2="601.98" y2="445.29" stroke="#000" stroke-width="1.6" stroke-linecap="butt"/>
<text x="483.5" y="603.5" font-family="Liberation Sans" font-size="13" font-weight="700" font-style="normal" fill="#000" text-anchor="end" textLength="47" lengthAdjust="spacingAndGlyphs" transform="rotate(-45 483.5 603.5)">Control</text>
<text x="524.3" y="603.5" font-family="Liberation Sans" font-size="13" font-weight="700" text-anchor="end" transform="rotate(-45 524.3 603.5)">10% CO<tspan font-size="9" font-weight="400" dy="3">2</tspan></text>
<text x="564.5" y="603.5" font-family="Liberation Sans" font-size="13" font-weight="700" font-style="normal" fill="#000" text-anchor="end" textLength="33.5" lengthAdjust="spacingAndGlyphs" transform="rotate(-45 564.5 603.5)">wash</text>
<text x="604.5" y="605" font-family="Liberation Sans" font-size="13" font-weight="700" text-anchor="end" transform="rotate(-45 604.5 605)">Ba<tspan font-size="9" font-weight="400" dy="-6">2+</tspan></text>
<text x="645.2" y="604.3" font-family="Liberation Sans" font-size="13" font-weight="700" text-anchor="end" transform="rotate(-45 645.2 604.3)">10% CO<tspan font-size="9" font-weight="400" dy="3">2</tspan><tspan dy="-3">+Ba</tspan><tspan font-size="9" font-weight="400" dy="-6">2+</tspan></text>
<text x="686.5" y="603.5" font-family="Liberation Sans" font-size="13" font-weight="700" font-style="normal" fill="#000" text-anchor="end" textLength="33.5" lengthAdjust="spacingAndGlyphs" transform="rotate(-45 686.5 603.5)">wash</text>
<text x="8.2" y="666.0" font-family="Liberation Sans" font-size="26.5" font-weight="700" font-style="normal" fill="#000" text-anchor="start" textLength="13" lengthAdjust="spacingAndGlyphs" stroke="#000" stroke-width="0.7">E</text>
<text x="108.3" y="708.8" font-family="Liberation Sans" font-size="21.5" font-weight="700" font-style="normal" fill="#000" text-anchor="start" textLength="26" lengthAdjust="spacingAndGlyphs" >Ba</text>
<text x="134.0" y="700.4" font-family="Liberation Sans" font-size="15" font-weight="700" font-style="normal" fill="#000" text-anchor="start" textLength="16.5" lengthAdjust="spacingAndGlyphs" >2+</text>
<text x="150.3" y="708.8" font-family="Liberation Sans" font-size="21.5" font-weight="700" font-style="normal" fill="#000" text-anchor="start" textLength="98" lengthAdjust="spacingAndGlyphs" >-sensitive</text>
<line x1="44.8" y1="741.6" x2="62.3" y2="741.6" stroke="#000" stroke-width="2" stroke-linecap="butt"/>
<ellipse cx="53.2" cy="741.6" rx="3.5" ry="3.5" fill="#000"/>
<text x="72.6" y="746.8" font-family="Liberation Sans" font-size="14" font-weight="400" font-style="normal" fill="#000" text-anchor="start" textLength="43" lengthAdjust="spacingAndGlyphs" >Control</text>
<line x1="44.8" y1="765.0" x2="62.3" y2="765.0" stroke="#ff0000" stroke-width="2" stroke-linecap="butt"/>
<rect x="50.0" y="761.8" width="6.4" height="6.4" fill="#ff0000"/>
<text x="72.3" y="771.5" font-family="Liberation Sans" font-size="14" font-weight="400" font-style="italic" fill="#000" text-anchor="start" textLength="41" lengthAdjust="spacingAndGlyphs" >Kcnj16</text>
<text x="113.5" y="765.5" font-family="Liberation Sans" font-size="9.5" font-weight="400" font-style="italic" fill="#000" text-anchor="start" textLength="9" lengthAdjust="spacingAndGlyphs" >-/-</text>
<polyline points="135.4,738 144,738 144,769.1 135.4,769.1" fill="none" stroke="#000" stroke-width="2.5" stroke-linejoin="miter"/>
<line x1="154.92" y1="750.2" x2="154.92" y2="758.8" stroke="#000" stroke-width="1.7" stroke-linecap="butt"/>
<line x1="151.2" y1="752.35" x2="158.65" y2="756.65" stroke="#000" stroke-width="1.7" stroke-linecap="butt"/>
<line x1="151.2" y1="756.65" x2="158.65" y2="752.35" stroke="#000" stroke-width="1.7" stroke-linecap="butt"/>
<line x1="165.7" y1="750.2" x2="165.7" y2="758.8" stroke="#000" stroke-width="1.7" stroke-linecap="butt"/>
<line x1="161.98" y1="752.35" x2="169.42" y2="756.65" stroke="#000" stroke-width="1.7" stroke-linecap="butt"/>
<line x1="161.98" y1="756.65" x2="169.42" y2="752.35" stroke="#000" stroke-width="1.7" stroke-linecap="butt"/>
<line x1="176.48" y1="750.2" x2="176.48" y2="758.8" stroke="#000" stroke-width="1.7" stroke-linecap="butt"/>
<line x1="172.75" y1="752.35" x2="180.2" y2="756.65" stroke="#000" stroke-width="1.7" stroke-linecap="butt"/>
<line x1="172.75" y1="756.65" x2="180.2" y2="752.35" stroke="#000" stroke-width="1.7" stroke-linecap="butt"/>
<line x1="279.3" y1="724" x2="279.3" y2="893.3" stroke="#000" stroke-width="2" stroke-linecap="butt"/>
<line x1="272.5" y1="725" x2="279.3" y2="725" stroke="#000" stroke-width="2" stroke-linecap="butt"/>
<text x="270.1" y="729.6" font-family="Liberation Sans" font-size="11.3" font-weight="700" font-style="normal" fill="#000" text-anchor="end" textLength="25" lengthAdjust="spacingAndGlyphs" >1500</text>
<line x1="272.5" y1="759.4" x2="279.3" y2="759.4" stroke="#000" stroke-width="2" stroke-linecap="butt"/>
<text x="270.1" y="764.0" font-family="Liberation Sans" font-size="11.3" font-weight="700" font-style="normal" fill="#000" text-anchor="end" textLength="25" lengthAdjust="spacingAndGlyphs" >1000</text>
<line x1="272.5" y1="792.0" x2="279.3" y2="792.0" stroke="#000" stroke-width="2" stroke-linecap="butt"/>
<text x="270.1" y="796.6" font-family="Liberation Sans" font-size="11.3" font-weight="700" font-style="normal" fill="#000" text-anchor="end" textLength="18.8" lengthAdjust="spacingAndGlyphs" >500</text>
<line x1="272.5" y1="825" x2="279.3" y2="825" stroke="#000" stroke-width="2" stroke-linecap="butt"/>
<line x1="272.5" y1="858.6" x2="279.3" y2="858.6" stroke="#000" stroke-width="2" stroke-linecap="butt"/>
<text x="270.1" y="863.2" font-family="Liberation Sans" font-size="11.3" font-weight="700" font-style="normal" fill="#000" text-anchor="end" textLength="22.5" lengthAdjust="spacingAndGlyphs" >-500</text>
<line x1="272.5" y1="892.3" x2="279.3" y2="892.3" stroke="#000" stroke-width="2" stroke-linecap="butt"/>
<text x="270.1" y="896.9" font-family="Liberation Sans" font-size="11.3" font-weight="700" font-style="normal" fill="#000" text-anchor="end" textLength="28.7" lengthAdjust="spacingAndGlyphs" >-1000</text>
<line x1="58.3" y1="825" x2="310.8" y2="825" stroke="#000" stroke-width="2" stroke-linecap="butt"/>
<line x1="83.4" y1="825" x2="83.4" y2="830.6" stroke="#000" stroke-width="2" stroke-linecap="butt"/>
<text x="83.4" y="847.3" font-family="Liberation Sans" font-size="11.5" font-weight="700" font-style="normal" fill="#000" text-anchor="middle" >-160</text>
<line x1="132.3" y1="825" x2="132.3" y2="830.6" stroke="#000" stroke-width="2" stroke-linecap="butt"/>
<text x="132.3" y="847.3" font-family="Liberation Sans" font-size="11.5" font-weight="700" font-style="normal" fill="#000" text-anchor="middle" >-120</text>
<line x1="180.8" y1="825" x2="180.8" y2="830.6" stroke="#000" stroke-width="2" stroke-linecap="butt"/>
<text x="180.8" y="847.3" font-family="Liberation Sans" font-size="11.5" font-weight="700" font-style="normal" fill="#000" text-anchor="middle" >-80</text>
<line x1="230.2" y1="825" x2="230.2" y2="830.6" stroke="#000" stroke-width="2" stroke-linecap="butt"/>
<text x="230.2" y="847.3" font-family="Liberation Sans" font-size="11.5" font-weight="700" font-style="normal" fill="#000" text-anchor="middle" >-40</text>
<text x="164.8" y="869.3" font-family="Liberation Sans" font-size="14" font-weight="700" font-style="normal" fill="#000" text-anchor="start" textLength="38.5" lengthAdjust="spacingAndGlyphs" >V(mV)</text>
<text x="299.5" y="844.3" font-family="Liberation Sans" font-size="12.5" font-weight="700" font-style="normal" fill="#000" text-anchor="middle" textLength="27" lengthAdjust="spacingAndGlyphs" transform="rotate(-90 299.5 844.3)">I(pA)</text>
<polyline points="58.9,837.8 83.4,835.0 107.7,834.4 132.5,831.6 156.3,828.5 180.8,825.0 205.6,822.9 230.3,820.3 254.5,817.4 279.2,814.3 303.9,811.5" fill="none" stroke="#ff0000" stroke-width="2" stroke-linejoin="miter"/>
<line x1="58.9" y1="832.7" x2="58.9" y2="843.2" stroke="#ff3030" stroke-width="1.8" stroke-linecap="butt"/>
<line x1="54.9" y1="832.7" x2="62.9" y2="832.7" stroke="#ff3030" stroke-width="1.8" stroke-linecap="butt"/>
<line x1="54.9" y1="843.2" x2="62.9" y2="843.2" stroke="#ff3030" stroke-width="1.8" stroke-linecap="butt"/>
<line x1="303.9" y1="805.7" x2="303.9" y2="817.4" stroke="#ff3030" stroke-width="1.8" stroke-linecap="butt"/>
<line x1="299.9" y1="805.7" x2="307.9" y2="805.7" stroke="#ff3030" stroke-width="1.8" stroke-linecap="butt"/>
<line x1="299.9" y1="817.4" x2="307.9" y2="817.4" stroke="#ff3030" stroke-width="1.8" stroke-linecap="butt"/>
<rect x="55.199999999999996" y="834.0999999999999" width="7.4" height="7.4" fill="#ff0000"/>
<rect x="79.7" y="831.3" width="7.4" height="7.4" fill="#ff0000"/>
<rect x="104.0" y="830.6999999999999" width="7.4" height="7.4" fill="#ff0000"/>
<rect x="128.8" y="827.9" width="7.4" height="7.4" fill="#ff0000"/>
<rect x="152.60000000000002" y="824.8" width="7.4" height="7.4" fill="#ff0000"/>
<rect x="177.10000000000002" y="821.3" width="7.4" height="7.4" fill="#ff0000"/>
<rect x="201.9" y="819.1999999999999" width="7.4" height="7.4" fill="#ff0000"/>
<rect x="226.60000000000002" y="816.5999999999999" width="7.4" height="7.4" fill="#ff0000"/>
<rect x="250.8" y="813.6999999999999" width="7.4" height="7.4" fill="#ff0000"/>
<rect x="275.5" y="810.5999999999999" width="7.4" height="7.4" fill="#ff0000"/>
<rect x="300.2" y="807.8" width="7.4" height="7.4" fill="#ff0000"/>
<polyline points="58.9,858.7 83.4,858.7 107.7,860.0 132.5,850.7 156.3,836.3 180.8,821.7 205.6,807.9 230.3,794.2 254.5,779.0 279.2,760.6 303.9,743.8" fill="none" stroke="#000" stroke-width="2.2" stroke-linejoin="miter"/>
<line x1="58.9" y1="848.7" x2="58.9" y2="868.8" stroke="#000" stroke-width="2" stroke-linecap="butt"/>
<line x1="54.9" y1="848.7" x2="62.9" y2="848.7" stroke="#000" stroke-width="2" stroke-linecap="butt"/>
<line x1="54.9" y1="868.8" x2="62.9" y2="868.8" stroke="#000" stroke-width="2" stroke-linecap="butt"/>
<line x1="83.4" y1="850.7" x2="83.4" y2="866.2" stroke="#000" stroke-width="2" stroke-linecap="butt"/>
<line x1="79.4" y1="850.7" x2="87.4" y2="850.7" stroke="#000" stroke-width="2" stroke-linecap="butt"/>
<line x1="79.4" y1="866.2" x2="87.4" y2="866.2" stroke="#000" stroke-width="2" stroke-linecap="butt"/>
<line x1="107.7" y1="853.8" x2="107.7" y2="865.2" stroke="#000" stroke-width="2" stroke-linecap="butt"/>
<line x1="103.7" y1="853.8" x2="111.7" y2="853.8" stroke="#000" stroke-width="2" stroke-linecap="butt"/>
<line x1="103.7" y1="865.2" x2="111.7" y2="865.2" stroke="#000" stroke-width="2" stroke-linecap="butt"/>
<line x1="132.5" y1="847.6" x2="132.5" y2="854.4" stroke="#000" stroke-width="2" stroke-linecap="butt"/>
<line x1="128.5" y1="847.6" x2="136.5" y2="847.6" stroke="#000" stroke-width="2" stroke-linecap="butt"/>
<line x1="128.5" y1="854.4" x2="136.5" y2="854.4" stroke="#000" stroke-width="2" stroke-linecap="butt"/>
<line x1="205.6" y1="804.6" x2="205.6" y2="811" stroke="#000" stroke-width="2" stroke-linecap="butt"/>
<line x1="201.6" y1="804.6" x2="209.6" y2="804.6" stroke="#000" stroke-width="2" stroke-linecap="butt"/>
<line x1="201.6" y1="811" x2="209.6" y2="811" stroke="#000" stroke-width="2" stroke-linecap="butt"/>
<line x1="230.3" y1="787.7" x2="230.3" y2="800.2" stroke="#000" stroke-width="2" stroke-linecap="butt"/>
<line x1="226.3" y1="787.7" x2="234.3" y2="787.7" stroke="#000" stroke-width="2" stroke-linecap="butt"/>
<line x1="226.3" y1="800.2" x2="234.3" y2="800.2" stroke="#000" stroke-width="2" stroke-linecap="butt"/>
<line x1="254.5" y1="769.8" x2="254.5" y2="787.4" stroke="#000" stroke-width="2" stroke-linecap="butt"/>
<line x1="250.5" y1="769.8" x2="258.5" y2="769.8" stroke="#000" stroke-width="2" stroke-linecap="butt"/>
<line x1="250.5" y1="787.4" x2="258.5" y2="787.4" stroke="#000" stroke-width="2" stroke-linecap="butt"/>
<line x1="279.2" y1="749.3" x2="279.2" y2="772.2" stroke="#000" stroke-width="2" stroke-linecap="butt"/>
<line x1="275.2" y1="749.3" x2="283.2" y2="749.3" stroke="#000" stroke-width="2" stroke-linecap="butt"/>
<line x1="275.2" y1="772.2" x2="283.2" y2="772.2" stroke="#000" stroke-width="2" stroke-linecap="butt"/>
<line x1="303.9" y1="729.2" x2="303.9" y2="758.1" stroke="#000" stroke-width="2" stroke-linecap="butt"/>
<line x1="299.9" y1="729.2" x2="307.9" y2="729.2" stroke="#000" stroke-width="2" stroke-linecap="butt"/>
<line x1="299.9" y1="758.1" x2="307.9" y2="758.1" stroke="#000" stroke-width="2" stroke-linecap="butt"/>
<ellipse cx="58.9" cy="858.7" rx="3.8" ry="3.8" fill="#000"/>
<ellipse cx="83.4" cy="858.7" rx="3.8" ry="3.8" fill="#000"/>
<ellipse cx="107.7" cy="860.0" rx="3.8" ry="3.8" fill="#000"/>
<ellipse cx="132.5" cy="850.7" rx="3.8" ry="3.8" fill="#000"/>
<ellipse cx="156.3" cy="836.3" rx="3.8" ry="3.8" fill="#000"/>
<ellipse cx="180.8" cy="821.7" rx="3.8" ry="3.8" fill="#000"/>
<ellipse cx="205.6" cy="807.9" rx="3.8" ry="3.8" fill="#000"/>
<ellipse cx="230.3" cy="794.2" rx="3.8" ry="3.8" fill="#000"/>
<ellipse cx="254.5" cy="779.0" rx="3.8" ry="3.8" fill="#000"/>
<ellipse cx="279.2" cy="760.6" rx="3.8" ry="3.8" fill="#000"/>
<ellipse cx="303.9" cy="743.8" rx="3.8" ry="3.8" fill="#000"/>
<text x="374.2" y="662.4" font-family="Liberation Sans" font-size="26.5" font-weight="700" font-style="normal" fill="#000" text-anchor="start" textLength="12" lengthAdjust="spacingAndGlyphs" stroke="#000" stroke-width="0.7">F</text>
<text x="483.8" y="708.8" font-family="Liberation Sans" font-size="21.5" font-weight="700" font-style="normal" fill="#000" text-anchor="start" textLength="32.5" lengthAdjust="spacingAndGlyphs" >CO</text>
<text x="514.6" y="711.6" font-family="Liberation Sans" font-size="13.5" font-weight="700" font-style="normal" fill="#000" text-anchor="start" textLength="8.5" lengthAdjust="spacingAndGlyphs" >2</text>
<text x="522.5" y="708.8" font-family="Liberation Sans" font-size="21.5" font-weight="700" font-style="normal" fill="#000" text-anchor="start" textLength="98" lengthAdjust="spacingAndGlyphs" >-sensitive</text>
<line x1="430.8" y1="741.3" x2="449.2" y2="741.3" stroke="#000" stroke-width="2" stroke-linecap="butt"/>
<ellipse cx="439.7" cy="741.3" rx="3.5" ry="3.5" fill="#000"/>
<text x="458.9" y="746.6" font-family="Liberation Sans" font-size="14" font-weight="400" font-style="normal" fill="#000" text-anchor="start" textLength="42.5" lengthAdjust="spacingAndGlyphs" >control</text>
<line x1="430.8" y1="765.4" x2="449.2" y2="765.4" stroke="#ff0000" stroke-width="2" stroke-linecap="butt"/>
<rect x="436.5" y="762.2" width="6.4" height="6.4" fill="#ff0000"/>
<text x="458.6" y="770.9" font-family="Liberation Sans" font-size="14" font-weight="400" font-style="italic" fill="#000" text-anchor="start" textLength="41" lengthAdjust="spacingAndGlyphs" >Kcnj16</text>
<text x="500.0" y="764.9" font-family="Liberation Sans" font-size="9.5" font-weight="400" font-style="italic" fill="#000" text-anchor="start" textLength="9" lengthAdjust="spacingAndGlyphs" >-/-</text>
<polyline points="516.6,740 525,740 525,768.2 516.6,768.2" fill="none" stroke="#000" stroke-width="2.5" stroke-linejoin="miter"/>
<line x1="535.32" y1="752.1" x2="535.32" y2="760.7" stroke="#000" stroke-width="1.7" stroke-linecap="butt"/>
<line x1="531.6" y1="754.25" x2="539.05" y2="758.55" stroke="#000" stroke-width="1.7" stroke-linecap="butt"/>
<line x1="531.6" y1="758.55" x2="539.05" y2="754.25" stroke="#000" stroke-width="1.7" stroke-linecap="butt"/>
<line x1="545.28" y1="752.1" x2="545.28" y2="760.7" stroke="#000" stroke-width="1.7" stroke-linecap="butt"/>
<line x1="541.55" y1="754.25" x2="549.0" y2="758.55" stroke="#000" stroke-width="1.7" stroke-linecap="butt"/>
<line x1="541.55" y1="758.55" x2="549.0" y2="754.25" stroke="#000" stroke-width="1.7" stroke-linecap="butt"/>
<line x1="665.0" y1="724" x2="665.0" y2="893.3" stroke="#000" stroke-width="2" stroke-linecap="butt"/>
<line x1="658.2" y1="725" x2="665.0" y2="725" stroke="#000" stroke-width="2" stroke-linecap="butt"/>
<text x="655.8" y="729.6" font-family="Liberation Sans" font-size="11.3" font-weight="700" font-style="normal" fill="#000" text-anchor="end" textLength="25" lengthAdjust="spacingAndGlyphs" >1500</text>
<line x1="658.2" y1="759.4" x2="665.0" y2="759.4" stroke="#000" stroke-width="2" stroke-linecap="butt"/>
<text x="655.8" y="764.0" font-family="Liberation Sans" font-size="11.3" font-weight="700" font-style="normal" fill="#000" text-anchor="end" textLength="25" lengthAdjust="spacingAndGlyphs" >1000</text>
<line x1="658.2" y1="792.0" x2="665.0" y2="792.0" stroke="#000" stroke-width="2" stroke-linecap="butt"/>
<text x="655.8" y="796.6" font-family="Liberation Sans" font-size="11.3" font-weight="700" font-style="normal" fill="#000" text-anchor="end" textLength="18.8" lengthAdjust="spacingAndGlyphs" >500</text>
<line x1="658.2" y1="825" x2="665.0" y2="825" stroke="#000" stroke-width="2" stroke-linecap="butt"/>
<line x1="658.2" y1="858.6" x2="665.0" y2="858.6" stroke="#000" stroke-width="2" stroke-linecap="butt"/>
<text x="655.8" y="863.2" font-family="Liberation Sans" font-size="11.3" font-weight="700" font-style="normal" fill="#000" text-anchor="end" textLength="22.5" lengthAdjust="spacingAndGlyphs" >-500</text>
<line x1="658.2" y1="892.3" x2="665.0" y2="892.3" stroke="#000" stroke-width="2" stroke-linecap="butt"/>
<text x="655.8" y="896.9" font-family="Liberation Sans" font-size="11.3" font-weight="700" font-style="normal" fill="#000" text-anchor="end" textLength="28.7" lengthAdjust="spacingAndGlyphs" >-1000</text>
<line x1="444.6" y1="825" x2="696.7" y2="825" stroke="#000" stroke-width="2" stroke-linecap="butt"/>
<line x1="470.0" y1="825" x2="470.0" y2="830.6" stroke="#000" stroke-width="2" stroke-linecap="butt"/>
<text x="470.0" y="847.3" font-family="Liberation Sans" font-size="11.5" font-weight="700" font-style="normal" fill="#000" text-anchor="middle" >-160</text>
<line x1="518.6" y1="825" x2="518.6" y2="830.6" stroke="#000" stroke-width="2" stroke-linecap="butt"/>
<text x="518.6" y="847.3" font-family="Liberation Sans" font-size="11.5" font-weight="700" font-style="normal" fill="#000" text-anchor="middle" >-120</text>
<line x1="567.5" y1="825" x2="567.5" y2="830.6" stroke="#000" stroke-width="2" stroke-linecap="butt"/>
<text x="567.5" y="847.3" font-family="Liberation Sans" font-size="11.5" font-weight="700" font-style="normal" fill="#000" text-anchor="middle" >-80</text>
<line x1="616.0" y1="825" x2="616.0" y2="830.6" stroke="#000" stroke-width="2" stroke-linecap="butt"/>
<text x="616.0" y="847.3" font-family="Liberation Sans" font-size="11.5" font-weight="700" font-style="normal" fill="#000" text-anchor="middle" >-40</text>
<text x="550.5" y="869.3" font-family="Liberation Sans" font-size="14" font-weight="700" font-style="normal" fill="#000" text-anchor="start" textLength="38.5" lengthAdjust="spacingAndGlyphs" >V(mV)</text>
<text x="685.8" y="846.4" font-family="Liberation Sans" font-size="12.5" font-weight="700" font-style="normal" fill="#000" text-anchor="middle" textLength="27" lengthAdjust="spacingAndGlyphs" transform="rotate(-90 685.8 846.4)">I(pA)</text>
<polyline points="445.5,844.3 470.0,842.4 494.3,842.4 518.6,837.4 543.2,831.3 567.5,825.0 592.1,820.8 616.9,817.7 640.8,813.5 665.0,809.4 690.0,803.3" fill="none" stroke="#ff0000" stroke-width="2" stroke-linejoin="miter"/>
<line x1="445.5" y1="839.6" x2="445.5" y2="849.4" stroke="#ff3030" stroke-width="1.8" stroke-linecap="butt"/>
<line x1="441.5" y1="839.6" x2="449.5" y2="839.6" stroke="#ff3030" stroke-width="1.8" stroke-linecap="butt"/>
<line x1="441.5" y1="849.4" x2="449.5" y2="849.4" stroke="#ff3030" stroke-width="1.8" stroke-linecap="butt"/>
<line x1="690.0" y1="797.9" x2="690.0" y2="808.3" stroke="#ff3030" stroke-width="1.8" stroke-linecap="butt"/>
<line x1="686.0" y1="797.9" x2="694.0" y2="797.9" stroke="#ff3030" stroke-width="1.8" stroke-linecap="butt"/>
<line x1="686.0" y1="808.3" x2="694.0" y2="808.3" stroke="#ff3030" stroke-width="1.8" stroke-linecap="butt"/>
<rect x="441.8" y="840.5999999999999" width="7.4" height="7.4" fill="#ff0000"/>
<rect x="466.3" y="838.6999999999999" width="7.4" height="7.4" fill="#ff0000"/>
<rect x="490.6" y="838.6999999999999" width="7.4" height="7.4" fill="#ff0000"/>
<rect x="514.9" y="833.6999999999999" width="7.4" height="7.4" fill="#ff0000"/>
<rect x="539.5" y="827.5999999999999" width="7.4" height="7.4" fill="#ff0000"/>
<rect x="563.8" y="821.3" width="7.4" height="7.4" fill="#ff0000"/>
<rect x="588.4" y="817.0999999999999" width="7.4" height="7.4" fill="#ff0000"/>
<rect x="613.1999999999999" y="814.0" width="7.4" height="7.4" fill="#ff0000"/>
<rect x="637.0999999999999" y="809.8" width="7.4" height="7.4" fill="#ff0000"/>
<rect x="661.3" y="805.6999999999999" width="7.4" height="7.4" fill="#ff0000"/>
<rect x="686.3" y="799.5999999999999" width="7.4" height="7.4" fill="#ff0000"/>
<polyline points="445.5,873.1 470.0,873.7 494.3,873.1 518.6,859.7 543.2,840.6 567.5,821.7 592.1,804.8 616.9,791.25 640.8,776.7 665.0,760.0 690.0,744.4" fill="none" stroke="#000" stroke-width="2.2" stroke-linejoin="miter"/>
<line x1="445.5" y1="859.4" x2="445.5" y2="886.5" stroke="#000" stroke-width="2" stroke-linecap="butt"/>
<line x1="441.5" y1="859.4" x2="449.5" y2="859.4" stroke="#000" stroke-width="2" stroke-linecap="butt"/>
<line x1="441.5" y1="886.5" x2="449.5" y2="886.5" stroke="#000" stroke-width="2" stroke-linecap="butt"/>
<line x1="470.0" y1="863.3" x2="470.0" y2="883.5" stroke="#000" stroke-width="2" stroke-linecap="butt"/>
<line x1="466.0" y1="863.3" x2="474.0" y2="863.3" stroke="#000" stroke-width="2" stroke-linecap="butt"/>
<line x1="466.0" y1="883.5" x2="474.0" y2="883.5" stroke="#000" stroke-width="2" stroke-linecap="butt"/>
<line x1="494.3" y1="865.6" x2="494.3" y2="880.4" stroke="#000" stroke-width="2" stroke-linecap="butt"/>
<line x1="490.3" y1="865.6" x2="498.3" y2="865.6" stroke="#000" stroke-width="2" stroke-linecap="butt"/>
<line x1="490.3" y1="880.4" x2="498.3" y2="880.4" stroke="#000" stroke-width="2" stroke-linecap="butt"/>
<line x1="518.6" y1="854.5" x2="518.6" y2="864.9" stroke="#000" stroke-width="2" stroke-linecap="butt"/>
<line x1="514.6" y1="854.5" x2="522.6" y2="854.5" stroke="#000" stroke-width="2" stroke-linecap="butt"/>
<line x1="514.6" y1="864.9" x2="522.6" y2="864.9" stroke="#000" stroke-width="2" stroke-linecap="butt"/>
<line x1="616.9" y1="785.4" x2="616.9" y2="797.1" stroke="#000" stroke-width="2" stroke-linecap="butt"/>
<line x1="612.9" y1="785.4" x2="620.9" y2="785.4" stroke="#000" stroke-width="2" stroke-linecap="butt"/>
<line x1="612.9" y1="797.1" x2="620.9" y2="797.1" stroke="#000" stroke-width="2" stroke-linecap="butt"/>
<line x1="640.8" y1="769.4" x2="640.8" y2="784" stroke="#000" stroke-width="2" stroke-linecap="butt"/>
<line x1="636.8" y1="769.4" x2="644.8" y2="769.4" stroke="#000" stroke-width="2" stroke-linecap="butt"/>
<line x1="636.8" y1="784" x2="644.8" y2="784" stroke="#000" stroke-width="2" stroke-linecap="butt"/>
<line x1="665.0" y1="750.6" x2="665.0" y2="770" stroke="#000" stroke-width="2" stroke-linecap="butt"/>
<line x1="661.0" y1="750.6" x2="669.0" y2="750.6" stroke="#000" stroke-width="2" stroke-linecap="butt"/>
<line x1="661.0" y1="770" x2="669.0" y2="770" stroke="#000" stroke-width="2" stroke-linecap="butt"/>
<line x1="690.0" y1="731.9" x2="690.0" y2="755.8" stroke="#000" stroke-width="2" stroke-linecap="butt"/>
<line x1="686.0" y1="731.9" x2="694.0" y2="731.9" stroke="#000" stroke-width="2" stroke-linecap="butt"/>
<line x1="686.0" y1="755.8" x2="694.0" y2="755.8" stroke="#000" stroke-width="2" stroke-linecap="butt"/>
<ellipse cx="445.5" cy="873.1" rx="3.8" ry="3.8" fill="#000"/>
<ellipse cx="470.0" cy="873.7" rx="3.8" ry="3.8" fill="#000"/>
<ellipse cx="494.3" cy="873.1" rx="3.8" ry="3.8" fill="#000"/>
<ellipse cx="518.6" cy="859.7" rx="3.8" ry="3.8" fill="#000"/>
<ellipse cx="543.2" cy="840.6" rx="3.8" ry="3.8" fill="#000"/>
<ellipse cx="567.5" cy="821.7" rx="3.8" ry="3.8" fill="#000"/>
<ellipse cx="592.1" cy="804.8" rx="3.8" ry="3.8" fill="#000"/>
<ellipse cx="616.9" cy="791.2" rx="3.8" ry="3.8" fill="#000"/>
<ellipse cx="640.8" cy="776.7" rx="3.8" ry="3.8" fill="#000"/>
<ellipse cx="665.0" cy="760.0" rx="3.8" ry="3.8" fill="#000"/>
<ellipse cx="690.0" cy="744.4" rx="3.8" ry="3.8" fill="#000"/>
</svg>
</body></html>
